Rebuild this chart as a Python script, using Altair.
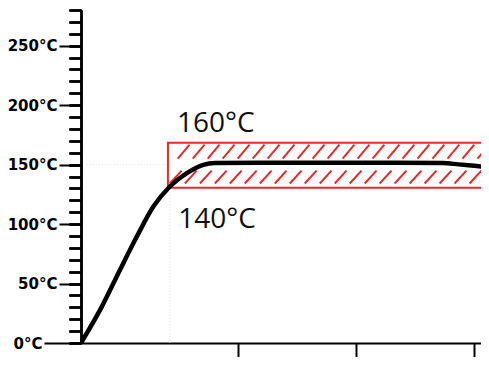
import altair as alt
import pandas as pd

# --- data ---
# heating curve (time in arbitrary units, temperature in °C)
curve_t = [0, 0.53, 0.99, 1.42, 1.84, 2.26, 2.69, 3.11, 3.4, 4.5, 6.0, 8.0, 9.2, 9.6, 10.0, 10.4, 10.6]
curve_temp = [0, 30.6, 61.4, 89.5, 114.7, 131.6, 142.8, 149.8, 151.3, 151.6, 151.6, 151.6, 151.3, 150.2, 149.0, 147.8, 147.2]

# tolerance band
band_t = [2.21, 10.8]
band_low = [130.6]
band_high = [168.3]

# annotation labels
label_text = ["160°C", "140°C"]
label_t = [2.44, 2.47]
label_temp = [177.6, 96.8]

# axis ticks
x_ticks = [4, 7, 10]
y_minor_ticks = list(range(0, 281, 10))
y_major_ticks = [50, 100, 150, 200, 250]
y_zero_tick = [0]

# faint guide lines
guide_temp = 150
guide_t = 2.26

X_DOMAIN = [0, 10.17]
Y_DOMAIN = [0, 280]
RED = "#e42a2a"

xs = alt.Scale(domain=X_DOMAIN, nice=False, zero=False)
ys = alt.Scale(domain=Y_DOMAIN, nice=False, zero=False)

curve_df = pd.DataFrame({"t": curve_t, "temp": curve_temp})
band_df = pd.DataFrame({"t0": [band_t[0]], "t1": [band_t[1]], "lo": band_low, "hi": band_high})

# hatch segments derived from the band extent
lo, hi = band_low[0], band_high[0]
mid = (lo + hi) / 2
rows = []
step = 0.381
dx = 0.30
k = 0
while True:
    x0 = band_t[0] + 0.05 + k * step
    if x0 > X_DOMAIN[1] + 0.5:
        break
    rows.append({"x": x0, "x2": x0 + dx, "y": lo + 3.5, "y2": mid - 4.5})
    xu = x0 + 0.2
    rows.append({"x": xu, "x2": xu + dx, "y": mid + 5.5, "y2": hi - 1.5})
    k += 1
hatch_df = pd.DataFrame(rows)
hatch_df = hatch_df[(hatch_df.x >= band_t[0]) & (hatch_df.x2 <= band_t[1])]

labels_df = pd.DataFrame({"t": label_t, "temp": label_temp, "txt": label_text})
guide_h = pd.DataFrame({"t0": [0.15], "t1": [guide_t - 0.1], "temp": [guide_temp]})
guide_v = pd.DataFrame({"t": [guide_t], "lo": [0], "hi": [band_low[0] - 1]})

x_axis = alt.Axis(values=x_ticks, labels=False, title=None, tickSize=22, tickWidth=2,
                  tickColor="black", domainColor="black", domainWidth=2, grid=False)

label_style = dict(labelFont="DejaVu Sans", labelFontWeight="bold", labelFontSize=15,
                   labelColor="black", labelPadding=2, labelOverlap=False)

y_minor = alt.Axis(values=y_minor_ticks, title=None, grid=False, labels=False, orient="left",
                   tickSize=12, tickWidth=2, tickColor="black",
                   domainColor="black", domainWidth=2)
y_major = alt.Axis(values=y_major_ticks, title=None, grid=False, orient="left",
                   labelExpr="datum.value + '°C'", tickSize=22, tickWidth=2, tickColor="black",
                   domain=False, **label_style)
y_zero = alt.Axis(values=y_zero_tick, title=None, grid=False, orient="left",
                  labelExpr="datum.value + '°C'", tickSize=37, tickWidth=2, tickColor="black",
                  domain=False, **label_style)


def X(field):
    return alt.X(field, scale=xs, axis=x_axis)


def Y(field, axis):
    return alt.Y(field, scale=ys, axis=axis)


gh = alt.Chart(guide_h).mark_rule(color="#e6e6e6", strokeDash=[1, 2], strokeWidth=1).encode(
    x=X("t0:Q"), x2="t1:Q", y=Y("temp:Q", y_minor))
gv = alt.Chart(guide_v).mark_rule(color="#e6e6e6", strokeDash=[1, 2], strokeWidth=1).encode(
    x=X("t:Q"), y=Y("lo:Q", y_minor), y2="hi:Q")

hatch = alt.Chart(hatch_df).mark_rule(color=RED, strokeWidth=2, clip=True).encode(
    x=X("x:Q"), x2="x2:Q", y=Y("y:Q", y_minor), y2="y2:Q")

band = alt.Chart(band_df).mark_rect(fill=None, stroke=RED, strokeWidth=2, clip=True).encode(
    x=X("t0:Q"), x2="t1:Q", y=Y("lo:Q", y_minor), y2="hi:Q")

line = alt.Chart(curve_df).mark_line(color="black", strokeWidth=4.5, interpolate="monotone", clip=True).encode(
    x=X("t:Q"), y=Y("temp:Q", y_major))

texts = alt.Chart(labels_df).mark_text(align="left", baseline="alphabetic", font="Open Sans",
                                        fontSize=28, color="#111111").encode(
    x=X("t:Q"), y=Y("temp:Q", y_zero), text="txt:N")

chart = alt.layer(gh, gv, hatch, band, line, texts).resolve_scale(
    y="shared", x="shared"
).resolve_axis(y="independent").properties(
    width=400, height=333,
    padding={"left": 73, "top": 2, "right": 0, "bottom": 14},
    autosize="none",
).configure_view(stroke=None)

chart.save("out.html", embed_options={"renderer": "svg", "actions": False})
